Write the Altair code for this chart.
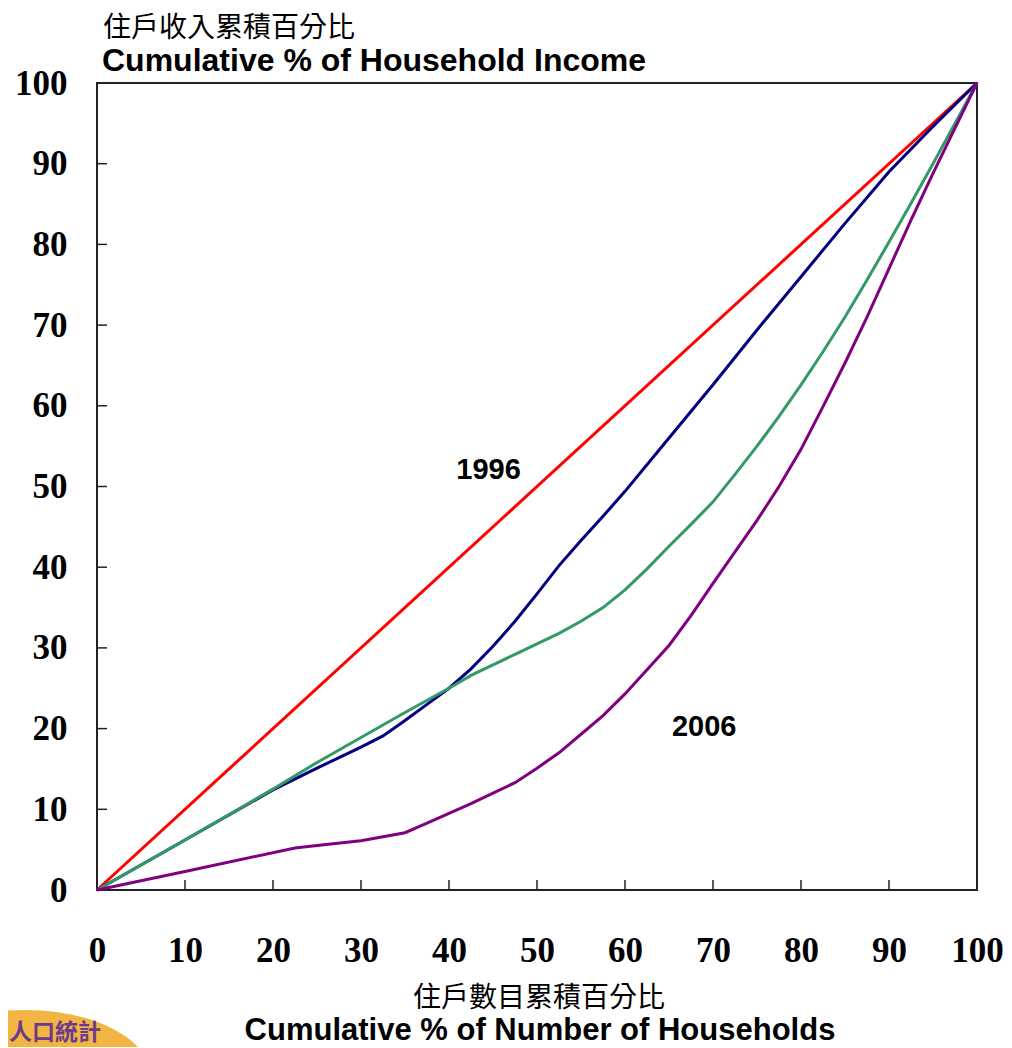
import altair as alt
import pandas as pd

# ---------------- data ----------------
equality_x = [0, 100]
equality_y = [0, 100]

blue_x = [0, 10, 20, 25, 30, 32.5, 35, 37.5, 40, 42.5, 45, 47.5, 50, 52.5, 55, 57.5,
          60, 65, 70, 75, 80, 85, 90, 95, 100]
blue_y = [0, 6.2, 12.4, 15.1, 17.7, 19.1, 21.0, 23.0, 25.0, 27.4, 30.2, 33.3, 36.7, 40.2,
          43.3, 46.3, 49.4, 56.0, 62.6, 69.4, 76.0, 82.6, 89.0, 94.6, 100]

green_x = [0, 10, 20, 25, 30, 35, 40, 42.5, 45, 47.5, 50, 52.5, 55, 57.5, 60, 62.5, 65,
           67.5, 70, 72.5, 75, 77.5, 80, 82.5, 85, 87.5, 90, 92.5, 95, 97.5, 100]
green_y = [0, 6.2, 12.5, 15.8, 18.9, 22.0, 25.0, 26.6, 27.9, 29.2, 30.5, 31.8, 33.3, 35.0,
           37.2, 39.8, 42.6, 45.3, 48.1, 51.5, 55.0, 58.7, 62.6, 66.7, 71.0, 75.6, 80.3,
           85.1, 90.0, 95.0, 100]

purple_x = [0, 10, 22.5, 25, 30, 35, 37.5, 40, 42.5, 45, 47.5, 50, 52.5, 55, 57.5, 60,
            62.5, 65, 67.5, 70, 72.5, 75, 77.5, 80, 82.5, 85, 87.5, 90, 92.5, 95, 97.5, 100]
purple_y = [0, 2.3, 5.2, 5.5, 6.1, 7.1, 8.3, 9.5, 10.7, 12.0, 13.3, 15.1, 17.0, 19.3, 21.6,
            24.3, 27.3, 30.3, 34.0, 38.0, 41.9, 45.8, 50.0, 54.6, 59.9, 65.3, 71.0, 77.0,
            83.0, 88.8, 94.4, 100]

year_labels = ["1996", "2006"]
year_label_x = [44.5, 69.0]
year_label_y = [52.0, 20.2]

tick_values = [0, 10, 20, 30, 40, 50, 60, 70, 80, 90, 100]
inner_ticks = [10, 20, 30, 40, 50, 60, 70, 80, 90]

y_title_zh = "住戶收入累積百分比"
y_title_en = "Cumulative % of Household Income"
x_title_zh = "住戶數目累積百分比"
x_title_en = "Cumulative % of Number of Households"
logo_text = "人口統計"

# ---------------- chart ----------------
W, H = 880, 807
SERIF = "Liberation Serif"
SANS = "Liberation Sans"
CJK = "Noto Sans CJK TC"

xs = alt.Scale(domain=[0, 100], nice=False, zero=True)
ys = alt.Scale(domain=[0, 100], nice=False, zero=True)

x_axis = alt.Axis(values=tick_values, title=None, grid=False, domain=False, ticks=False,
                  labelFont=SERIF, labelFontWeight="bold", labelFontSize=35,
                  labelColor="black", labelPadding=43, labelFlush=False,
                  labelOverlap=False, labelBound=False)
y_axis = alt.Axis(values=tick_values, title=None, grid=False, domain=False, ticks=False,
                  labelFont=SERIF, labelFontWeight="bold", labelFontSize=35,
                  labelColor="black", labelPadding=30, labelFlush=False,
                  labelOverlap=False, labelBound=False)


def X(field):
    return alt.X(field, scale=xs, axis=x_axis, title=None)


def Y(field):
    return alt.Y(field, scale=ys, axis=y_axis, title=None)


def series(xv, yv, color):
    df = pd.DataFrame({"x": xv, "y": yv})
    return alt.Chart(df).mark_line(color=color, strokeWidth=3).encode(x=X("x:Q"), y=Y("y:Q"))


red = series(equality_x, equality_y, "#FF0000")
blue = series(blue_x, blue_y, "#000080")
green = series(green_x, green_y, "#339966")
purple = series(purple_x, purple_y, "#800080")

ticks_df = pd.DataFrame({"v": inner_ticks})
x_ticks = alt.Chart(ticks_df).mark_rule(color="#222222", strokeWidth=1.5).encode(
    x=X("v:Q"), y=alt.value(H), y2=alt.value(H - 10))
y_ticks = alt.Chart(ticks_df).mark_rule(color="#222222", strokeWidth=1.5).encode(
    y=Y("v:Q"), x=alt.value(0), x2=alt.value(10))

lab_df = pd.DataFrame({"t": year_labels, "x": year_label_x, "y": year_label_y})
year_text = alt.Chart(lab_df).mark_text(font=SANS, fontWeight="bold", fontSize=29,
                                        color="black").encode(
    x=X("x:Q"), y=Y("y:Q"), text="t:N")


def free_text(txt, x, y, font, size, weight="normal", align="left", color="black"):
    return alt.Chart(pd.DataFrame({"t": [txt]})).mark_text(
        font=font, fontSize=size, fontWeight=weight, align=align, baseline="middle",
        color=color).encode(x=alt.value(x), y=alt.value(y), text="t:N")


t1 = free_text(y_title_zh, 6, -54, CJK, 28)
t2 = free_text(y_title_en, 5, -22, SANS, 32, "bold")
t3 = free_text(x_title_zh, 442, 916, CJK, 28, align="center")
t4 = free_text(x_title_en, 443, 948, SANS, 31, "bold", align="center")

logo_shape = "M -1 0 A 1 0.52 0 1 1 1 0 A 1 0.52 0 1 1 -1 0 Z"
logo_bg = alt.Chart(pd.DataFrame({"t": [logo_text]})).mark_point(
    shape=logo_shape, filled=True, color="#F2B544", opacity=1, size=62500).encode(
    x=alt.value(-72), y=alt.value(992))
logo_txt = free_text(logo_text, -88, 950, CJK, 23, "bold", color="#6B3A8C")

chart = alt.layer(
    red, blue, green, purple, x_ticks, y_ticks, year_text, logo_bg, logo_txt, t1, t2, t3, t4
).properties(
    width=W, height=H,
    padding={"left": 89, "top": 75, "right": 27, "bottom": 157},
    autosize=alt.AutoSizeParams(type="none"),
    background="white",
).configure_view(stroke="#222222", strokeWidth=2)

chart.save("out.html", embed_options={"renderer": "svg", "actions": False})
